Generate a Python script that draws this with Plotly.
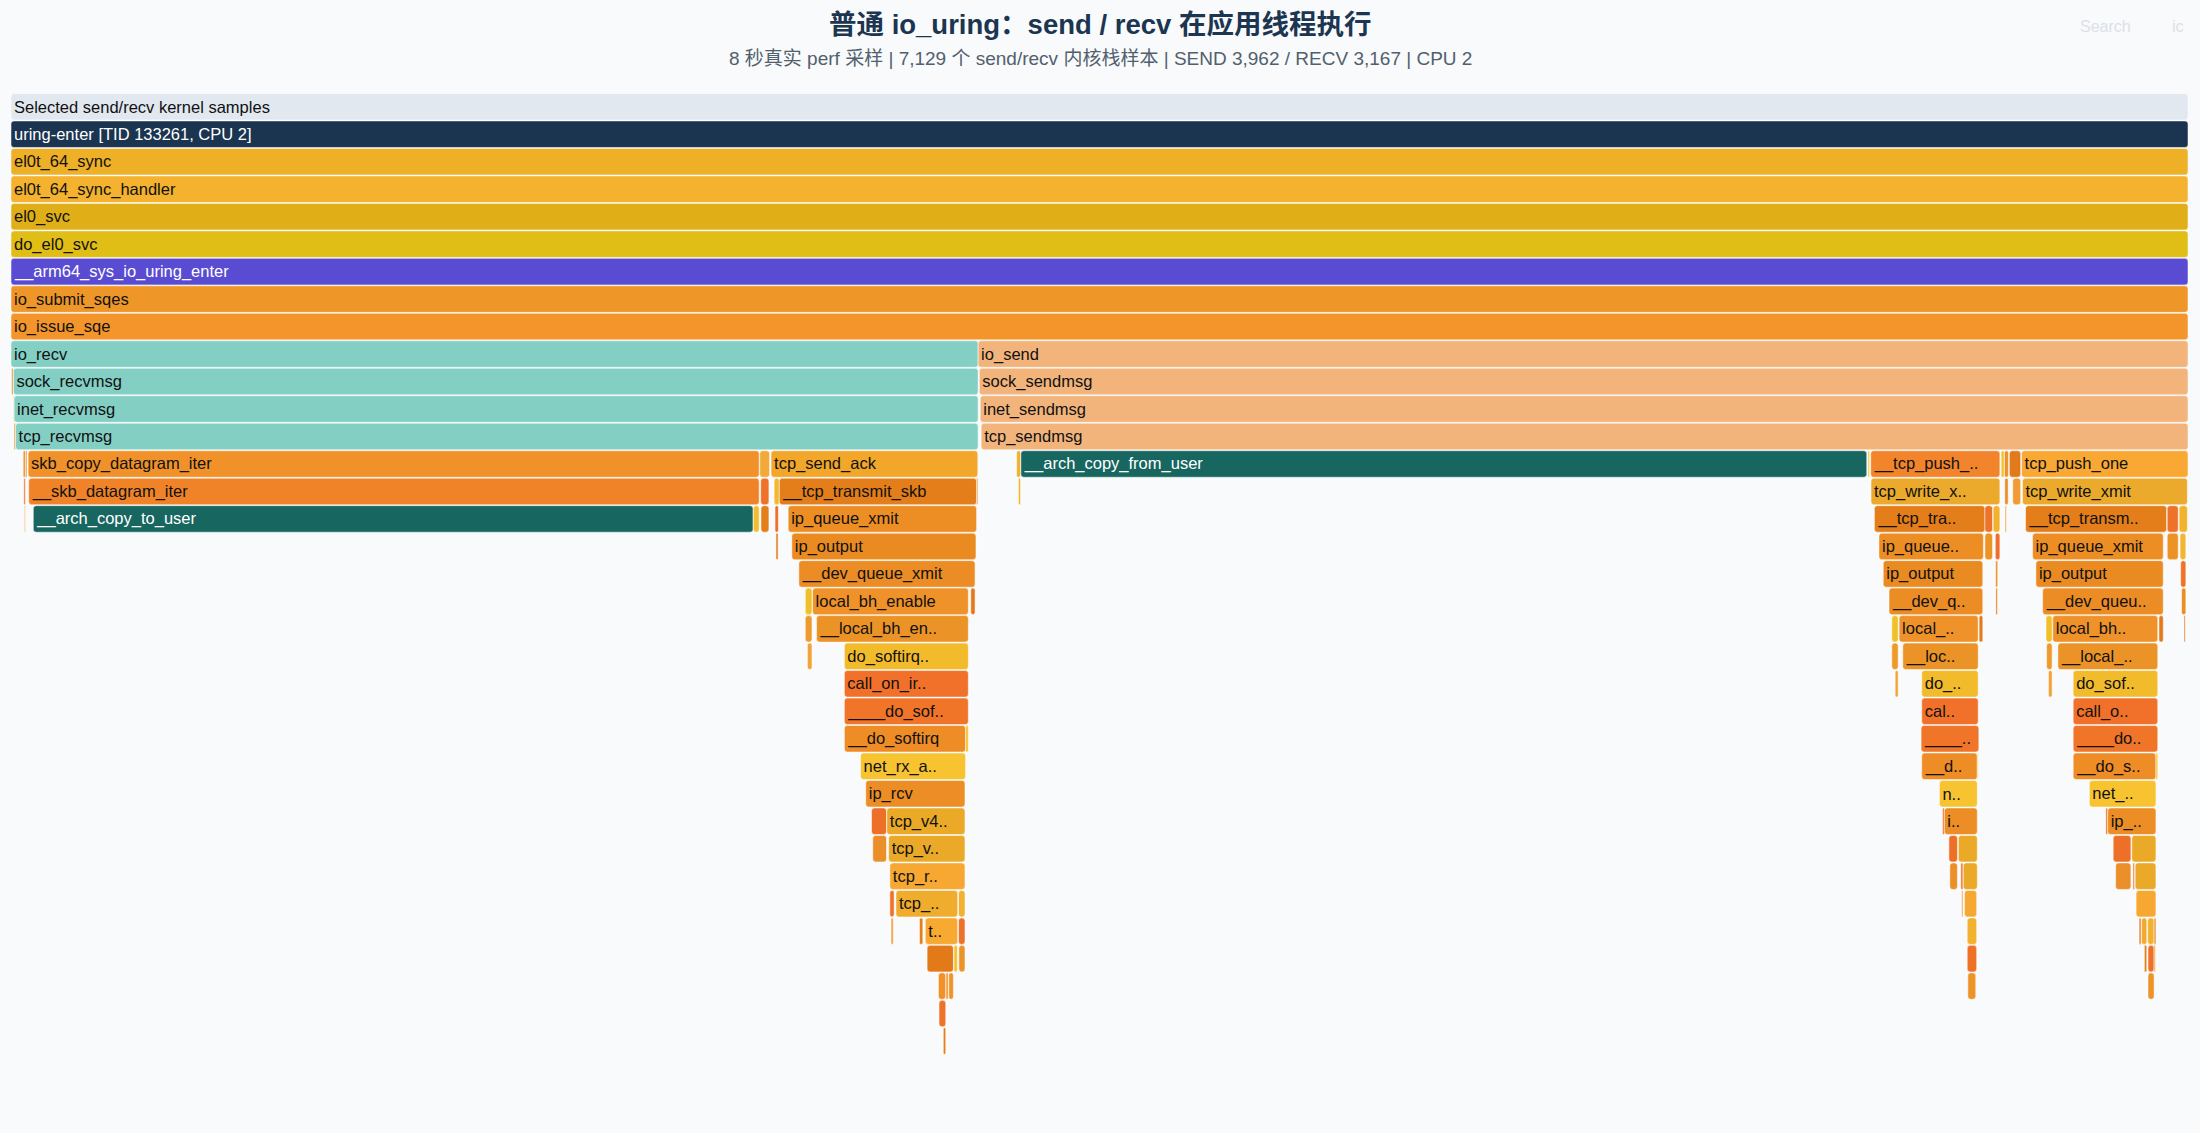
import plotly.graph_objects as go

# ---------------- data (samples) ----------------
TOTAL_SAMPLES = 7129
SEND_SAMPLES = 3962
RECV_SAMPLES = 3167

TITLE = "普通 io_uring：send / recv 在应用线程执行"
SUBTITLE = "8 秒真实 perf 采样 | 7,129 个 send/recv 内核栈样本 | SEND 3,962 / RECV 3,167 | CPU 2"

# (function, depth, first sample, sample count)
TRUNK_FRAMES = [
    ("Selected send/recv kernel samples", 0, 0, 7129),
    ("uring-enter [TID 133261, CPU 2]", 1, 0, 7129),
    ("el0t_64_sync", 2, 0, 7129),
    ("el0t_64_sync_handler", 3, 0, 7129),
    ("el0_svc", 4, 0, 7129),
    ("do_el0_svc", 5, 0, 7129),
    ("__arm64_sys_io_uring_enter", 6, 0, 7129),
    ("io_submit_sqes", 7, 0, 7129),
    ("io_issue_sqe", 8, 0, 7129),
]

RECV_FRAMES = [
    ("io_recv", 9, 0, 3167),
    ("io_req_set_res", 10, 2, 5),
    ("sock_recvmsg", 10, 8, 3159),
    ("security_socket_recvmsg", 11, 8, 2),
    ("inet_recvmsg", 11, 10, 3157),
    ("lock_sock_nested", 12, 10, 5),
    ("tcp_recvmsg", 12, 15, 3152),
    ("tcp_rcv_space_adjust", 13, 40, 7),
    ("release_sock", 13, 48, 4),
    ("skb_copy_datagram_iter", 13, 56, 2394),
    ("tcp_cleanup_rbuf", 13, 2452, 32),
    ("tcp_send_ack", 13, 2489, 677),
    ("tcp_mstamp_refresh", 14, 42, 5),
    ("__skb_datagram_iter", 14, 58, 2392),
    ("__tcp_send_ack", 14, 2455, 27),
    ("__alloc_skb", 14, 2499, 17),
    ("__tcp_transmit_skb", 14, 2516, 646),
    ("tcp_rate_skb_sent", 14, 3162, 4),
    ("ktime_get", 15, 44, 3),
    ("__arch_copy_to_user", 15, 73, 2357),
    ("simple_copy_to_iter", 15, 2431, 19),
    ("__tcp_transmit_skb", 15, 2456, 26),
    ("kmem_cache_alloc_node", 15, 2502, 11),
    ("ip_queue_xmit", 15, 2545, 617),
    ("memcg_slab_post_alloc_hook", 16, 2505, 7),
    ("ip_output", 16, 2557, 603),
    ("__dev_queue_xmit", 17, 2580, 577),
    ("dev_hard_start_xmit", 18, 2601, 22),
    ("local_bh_enable", 18, 2625, 510),
    ("validate_xmit_skb", 18, 3143, 14),
    ("loopback_xmit", 19, 2601, 22),
    ("__local_bh_enable_ip", 19, 2638, 497),
    ("__netif_rx", 20, 2608, 15),
    ("do_softirq_own_stack", 20, 2729, 406),
    ("call_on_irq_stack", 21, 2729, 406),
    ("____do_softirq", 22, 2729, 406),
    ("__do_softirq", 23, 2729, 397),
    ("rcu_core_si", 23, 3126, 9),
    ("net_rx_action", 24, 2782, 344),
    ("ip_rcv", 25, 2799, 325),
    ("ip_rcv_finish_core", 26, 2818, 49),
    ("tcp_v4_rcv", 26, 2868, 256),
    ("ip_route_input_noref", 27, 2822, 45),
    ("tcp_v4_do_rcv", 27, 2874, 250),
    ("tcp_rcv_established", 28, 2878, 246),
    ("tcp_mstamp_refresh", 29, 2878, 14),
    ("tcp_data_queue", 29, 2898, 202),
    ("tcp_ack", 29, 3103, 21),
    ("ktime_get", 30, 2882, 7),
    ("tcp_queue_rcv", 30, 2975, 11),
    ("tcp_data_ready", 30, 2994, 106),
    ("tcp_clean_rtx_queue", 30, 3103, 21),
    ("sock_def_readable", 31, 3000, 86),
    ("skb_set_owner_r", 31, 3088, 11),
    ("kfree_skb_reason", 31, 3104, 20),
    ("__wake_up_sync_key", 32, 3037, 24),
    ("_raw_spin_lock_irqsave", 32, 3062, 7),
    ("__wake_up_common_lock", 32, 3071, 15),
    ("io_poll_wake", 33, 3039, 22),
    ("__io_req_task_work_add", 34, 3053, 8),
]

SEND_FRAMES = [
    ("io_send", 9, 3167, 3962),
    ("sock_sendmsg", 10, 3171, 3958),
    ("inet_sendmsg", 11, 3174, 3955),
    ("tcp_sendmsg", 12, 3177, 3952),
    ("tcp_stream_alloc_skb", 13, 3293, 13),
    ("__arch_copy_from_user", 13, 3307, 2770),
    ("sk_stream_memory_free", 13, 6081, 5),
    ("__tcp_push_pending_frames", 13, 6090, 423),
    ("tcp_skb_entail", 13, 6517, 10),
    ("sk_page_frag_refill", 13, 6528, 13),
    ("release_sock", 13, 6544, 37),
    ("tcp_push_one", 13, 6584, 545),
    ("__alloc_skb", 14, 3299, 7),
    ("tcp_write_xmit", 14, 6091, 422),
    ("skb_page_frag_refill", 14, 6529, 11),
    ("__release_sock", 14, 6555, 26),
    ("tcp_write_xmit", 14, 6587, 540),
    ("__tcp_transmit_skb", 15, 6102, 362),
    ("tcp_event_new_data_sent", 15, 6464, 25),
    ("tcp_small_queue_check", 15, 6491, 22),
    ("alloc_pages", 15, 6530, 4),
    ("__tcp_transmit_skb", 15, 6597, 462),
    ("tcp_event_new_data_sent", 15, 7061, 36),
    ("tcp_small_queue_check", 15, 7100, 27),
    ("ip_queue_xmit", 16, 6117, 342),
    ("sk_reset_timer", 16, 6464, 25),
    ("tcp_rearm_rto", 16, 6498, 15),
    ("ip_queue_xmit", 16, 6620, 428),
    ("sk_reset_timer", 16, 7061, 36),
    ("tcp_tsq_handler", 16, 7103, 19),
    ("ip_output", 17, 6131, 326),
    ("mod_timer", 17, 6499, 7),
    ("ip_output", 17, 6631, 417),
    ("tcp_tsq_write", 17, 7105, 17),
    ("__dev_queue_xmit", 18, 6150, 307),
    ("lock_timer_base", 18, 6500, 5),
    ("__dev_queue_xmit", 18, 6653, 395),
    ("tcp_xmit_retransmit_queue", 18, 7108, 14),
    ("dev_hard_start_xmit", 19, 6159, 21),
    ("local_bh_enable", 19, 6183, 259),
    ("validate_xmit_skb", 19, 6445, 12),
    ("dev_hard_start_xmit", 19, 6664, 20),
    ("local_bh_enable", 19, 6686, 344),
    ("validate_xmit_skb", 19, 7034, 14),
    ("tcp_mstamp_refresh", 19, 7116, 4),
    ("loopback_xmit", 20, 6159, 21),
    ("__local_bh_enable_ip", 20, 6195, 247),
    ("loopback_xmit", 20, 6666, 18),
    ("__local_bh_enable_ip", 20, 6703, 327),
    ("__netif_rx", 21, 6170, 10),
    ("do_softirq_own_stack", 21, 6257, 185),
    ("__netif_rx", 21, 6672, 12),
    ("do_softirq_own_stack", 21, 6753, 277),
    ("call_on_irq_stack", 22, 6257, 185),
    ("call_on_irq_stack", 22, 6753, 277),
    ("____do_softirq", 23, 6255, 189),
    ("____do_softirq", 23, 6753, 277),
    ("__do_softirq", 24, 6257, 182),
    ("rcu_core_si", 24, 6439, 3),
    ("__do_softirq", 24, 6753, 271),
    ("rcu_core_si", 24, 7024, 6),
    ("net_rx_action", 25, 6315, 124),
    ("net_rx_action", 25, 6806, 218),
    ("__netif_receive_skb_core", 26, 6325, 6),
    ("ip_rcv", 26, 6331, 108),
    ("__netif_receive_skb_core", 26, 6860, 6),
    ("ip_rcv", 26, 6866, 158),
    ("ip_rcv_finish_core", 27, 6346, 28),
    ("tcp_v4_rcv", 27, 6377, 62),
    ("ip_rcv_finish_core", 27, 6884, 58),
    ("tcp_v4_rcv", 27, 6945, 79),
    ("ip_route_input_noref", 28, 6349, 25),
    ("sk_filter_trim_cap", 28, 6385, 7),
    ("tcp_v4_do_rcv", 28, 6393, 46),
    ("ip_route_input_noref", 28, 6892, 50),
    ("sk_filter_trim_cap", 28, 6949, 5),
    ("tcp_v4_do_rcv", 28, 6956, 68),
    ("security_sock_rcv_skb", 29, 6388, 4),
    ("tcp_rcv_established", 29, 6397, 40),
    ("tcp_rcv_established", 29, 6959, 65),
    ("tcp_ack", 30, 6406, 31),
    ("tcp_mstamp_refresh", 30, 6969, 6),
    ("tcp_data_queue", 30, 6977, 17),
    ("tcp_ack", 30, 6997, 21),
    ("tcp_event_data_recv", 30, 7018, 6),
    ("tcp_clean_rtx_queue", 31, 6406, 31),
    ("tcp_queue_rcv", 31, 6986, 8),
    ("tcp_clean_rtx_queue", 31, 6998, 20),
    ("tcp_rcv_space_adjust", 31, 7018, 4),
    ("kfree_skb_reason", 32, 6408, 26),
    ("kfree_skb_reason", 32, 6998, 20),
]

# ---------------- styling ----------------
COLORS = {
    "Selected send/recv kernel samples": "#e2e8f0",
    "uring-enter [TID 133261, CPU 2]": "#1b3550",
    "el0t_64_sync": "#eeb026",
    "el0t_64_sync_handler": "#f4b22e",
    "el0_svc": "#e0af17",
    "do_el0_svc": "#e1be16",
    "__arm64_sys_io_uring_enter": "#5a4cd2",
    "io_submit_sqes": "#ef9629",
    "io_issue_sqe": "#f4952c",
    "io_recv": "#84cfc4", "sock_recvmsg": "#84cfc4",
    "inet_recvmsg": "#84cfc4", "tcp_recvmsg": "#84cfc4",
    "io_send": "#f2b47b", "sock_sendmsg": "#f2b47b",
    "inet_sendmsg": "#f2b47b", "tcp_sendmsg": "#f2b47b",
    "__arch_copy_to_user": "#176660", "__arch_copy_from_user": "#176660",
    "skb_copy_datagram_iter": "#f09229",
    "__skb_datagram_iter": "#f08327",
    "tcp_send_ack": "#f2a72b",
    "__tcp_transmit_skb": "#e47e1a",
    "ip_queue_xmit": "#ec8e24",
    "ip_output": "#ea8b22",
    "__dev_queue_xmit": "#ec8c25",
    "local_bh_enable": "#ef9229",
    "__local_bh_enable_ip": "#eb9326",
    "do_softirq_own_stack": "#f2bb2b",
    "call_on_irq_stack": "#f1712a",
    "____do_softirq": "#f07529",
    "__do_softirq": "#ee8c26",
    "net_rx_action": "#f7c331",
    "ip_rcv": "#ec8d25",
    "tcp_v4_rcv": "#eaaa28",
    "tcp_v4_do_rcv": "#eaa928",
    "tcp_rcv_established": "#f7a832",
    "tcp_data_queue": "#efac2d",
    "tcp_data_ready": "#f7a932",
    "sock_def_readable": "#e27a1a",
    "__tcp_push_pending_frames": "#f2852b",
    "tcp_write_xmit": "#ebaa2b",
    "tcp_push_one": "#f9a834",
    "ip_rcv_finish_core": "#ee6f28",
    "ip_route_input_noref": "#eb9028",
    "dev_hard_start_xmit": "#f0c02a",
    "loopback_xmit": "#ef9a2c",
    "__netif_rx": "#f4a23a",
    "validate_xmit_skb": "#e3791a",
    "tcp_event_new_data_sent": "#ee7229",
    "sk_reset_timer": "#ec9326",
    "tcp_small_queue_check": "#f1b22e",
    "tcp_ack": "#f2b12e",
    "tcp_clean_rtx_queue": "#ef7129",
    "kfree_skb_reason": "#ec9428",
    "release_sock": "#e07a1b",
    "__release_sock": "#f09a38",
    "rcu_core_si": "#f6c236",
    "tcp_cleanup_rbuf": "#f2a93a",
    "__tcp_send_ack": "#ef722a",
    "__alloc_skb": "#f2b82e",
    "kmem_cache_alloc_node": "#ef6f2a",
    "simple_copy_to_iter": "#f3bd2e",
    "tcp_mstamp_refresh": "#ef7229",
    "ktime_get": "#f29a3a",
    "tcp_rearm_rto": "#ef6f2a",
    "tcp_tsq_handler": "#f3b634",
    "tcp_tsq_write": "#ef7229",
    "io_req_set_res": "#f0922a",
    "security_socket_recvmsg": "#f2b12e",
    "lock_sock_nested": "#f0a23a",
}
FALLBACK = ["#f0922a", "#f2b12e", "#ec8d24", "#ef7229", "#f5c22f", "#e57f1b"]
WHITE_TEXT = {"uring-enter [TID 133261, CPU 2]", "__arm64_sys_io_uring_enter",
              "__arch_copy_to_user", "__arch_copy_from_user"}

W, H = 2200, 1133
M_L, M_R, M_T, M_B = 11, 12, 93, 23
PLOT_W = W - M_L - M_R
PX_PER_SAMPLE = PLOT_W / TOTAL_SAMPLES
CHAR_W = 9.6
LABEL_SIZE = 16.5
FONT = "Liberation Sans, Arial, Noto Sans CJK SC, sans-serif"


def color_of(name):
    if name in COLORS:
        return COLORS[name]
    return FALLBACK[sum(map(ord, name)) % len(FALLBACK)]


def short_label(name, samples):
    n = int(samples * PX_PER_SAMPLE // CHAR_W)
    if len(name) <= n:
        return name
    if n < 3:
        return ""
    return name[: n - 2] + ".."


frames = TRUNK_FRAMES + RECV_FRAMES + SEND_FRAMES
names = [f[0] for f in frames]
depths = [f[1] for f in frames]
starts = [f[2] for f in frames]
counts = [f[3] for f in frames]

fig = go.Figure(
    go.Bar(
        orientation="h",
        y=depths,
        x=counts,
        base=starts,
        width=0.965,
        marker=dict(
            color=[color_of(n) for n in names],
            line=dict(color="rgba(255,255,255,0.85)", width=0.6),
        ),
        text=[short_label(n, c) for n, c in zip(names, counts)],
        textposition="inside",
        insidetextanchor="start",
        textangle=0,
        textfont=dict(
            family=FONT,
            size=LABEL_SIZE,
            color=["#ffffff" if n in WHITE_TEXT else "#111111" for n in names],
        ),
        customdata=names,
        hovertemplate="%{customdata}<br>%{x} samples<extra></extra>",
    )
)

n_rows = (H - M_T - M_B) / 27.48
fig.update_layout(
    width=W,
    height=H,
    margin=dict(l=M_L, r=M_R, t=M_T, b=M_B, pad=0),
    paper_bgcolor="#f8fafc",
    plot_bgcolor="#f8fafc",
    barmode="overlay",
    barcornerradius=3,
    showlegend=False,
    uniformtext=dict(minsize=LABEL_SIZE, mode="hide"),
    xaxis=dict(visible=False, range=[0, TOTAL_SAMPLES], fixedrange=True),
    yaxis=dict(visible=False, range=[n_rows - 0.5, -0.5], fixedrange=True),
    font=dict(family=FONT),
)

plot_h = H - M_T - M_B


def paper_y(py):
    return 1 + (M_T - py) / plot_h


def paper_x(px):
    return (px - M_L) / PLOT_W


fig.add_annotation(
    text="<b>" + TITLE + "</b>", xref="paper", yref="paper",
    x=paper_x(W / 2), y=paper_y(24), xanchor="center", yanchor="middle",
    showarrow=False,
    font=dict(size=27.5, color="#1c3550", family=FONT),
)
fig.add_annotation(
    text=SUBTITLE, xref="paper", yref="paper",
    x=paper_x(W / 2), y=paper_y(59), xanchor="center", yanchor="middle",
    showarrow=False,
    font=dict(size=19, color="#52606d", family=FONT),
)
fig.add_annotation(
    text="Search", xref="paper", yref="paper",
    x=paper_x(2105), y=paper_y(27), xanchor="center", yanchor="middle",
    showarrow=False, font=dict(size=16, color="#dce1e7", family=FONT),
)
fig.add_annotation(
    text="ic", xref="paper", yref="paper",
    x=paper_x(2178), y=paper_y(27), xanchor="center", yanchor="middle",
    showarrow=False, font=dict(size=16, color="#dce1e7", family=FONT),
)

fig.write_html(
    "out.html",
    config={"displayModeBar": False},
    post_script="document.body.style.margin='0';document.body.style.overflow='hidden';",
)
